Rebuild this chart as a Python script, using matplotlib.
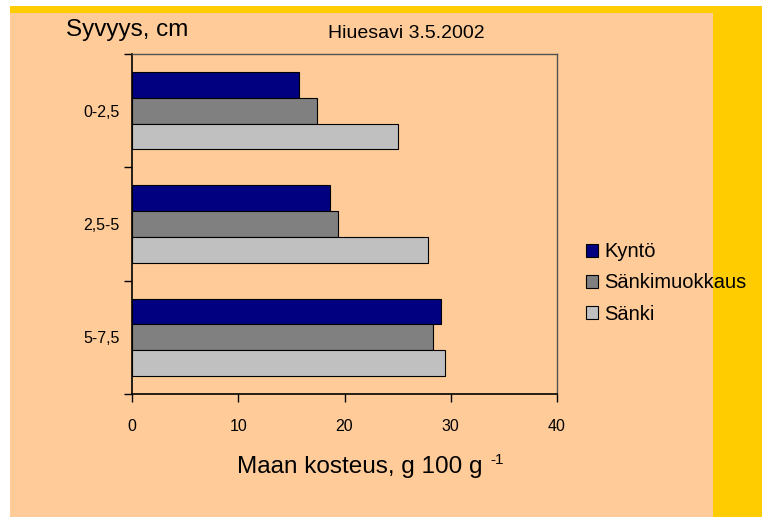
import matplotlib.pyplot as plt
from matplotlib.patches import Rectangle

# data
depths = ["0-2,5", "2,5-5", "5-7,5"]
series = ["Kyntö", "Sänkimuokkaus", "Sänki"]
kynto = [15.7, 18.6, 29.1]
sankimuokkaus = [17.4, 19.4, 28.3]
sanki = [25.0, 27.9, 29.5]
colors = ["#000080", "#808080", "#C0C0C0"]
xticks = [0, 10, 20, 30, 40]

plt.rcParams['font.family'] = ['Liberation Sans', 'DejaVu Sans']

W, H = 762, 517
fig = plt.figure(figsize=(W / 100, H / 100), dpi=100, facecolor="white")

# background panels (yellow frame, peach area)
fig.patches.append(Rectangle((10 / W, 0), 1 - 10 / W, 1 - 6 / H,
                             transform=fig.transFigure, facecolor="#FFCC00",
                             edgecolor="none", zorder=-2))
fig.patches.append(Rectangle((10 / W, 0), (713 - 10) / W, 1 - 13 / H,
                             transform=fig.transFigure, facecolor="#FFCC99",
                             edgecolor="none", zorder=-1))

ax = fig.add_axes([132 / W, 1 - 394 / H, (557 - 132) / W, (394 - 54) / H])
ax.patch.set_alpha(0)

h = 0.227
ypos = list(range(len(depths)))
for i, (name, vals) in enumerate(zip(series, [kynto, sankimuokkaus, sanki])):
    ax.barh([y + (i - 1) * h for y in ypos], vals, height=h, color=colors[i],
            edgecolor="black", linewidth=0.8, label=name)

ax.set_xlim(0, 40)
ax.set_ylim(2.5, -0.5)
ax.set_xticks(xticks)
ax.set_xticklabels([str(v) for v in xticks], fontsize=11.5)
ax.set_yticks(ypos)
ax.set_yticklabels(depths, fontsize=11.5)
ax.set_yticks([-0.5, 0.5, 1.5, 2.5], minor=True)
ax.tick_params(axis="y", which="major", length=0, pad=9)
ax.tick_params(axis="y", which="minor", length=6, width=1, direction="out")
ax.tick_params(axis="x", length=6, width=1, direction="out", pad=12)

for s in ["left", "bottom"]:
    ax.spines[s].set_color("black")
    ax.spines[s].set_linewidth(1.2)
for s in ["top", "right"]:
    ax.spines[s].set_color("#505050")
    ax.spines[s].set_linewidth(1.0)

fig.text(66 / W, 1 - 30 / H, "Syvyys, cm", fontsize=17.5, va="center", ha="left")
fig.text(406 / W, 1 - 33 / H, "Hiuesavi 3.5.2002", fontsize=14, va="center", ha="center")

lab = fig.text(237 / W, 1 - 467 / H, "Maan kosteus, g 100 g", fontsize=17.5,
               va="center", ha="left")
ax.annotate("-1", xy=(1, 1), xycoords=lab, xytext=(6, 2), textcoords="offset points",
            fontsize=11, va="top", ha="left", annotation_clip=False)

leg = fig.legend(loc="center left", bbox_to_anchor=(578 / W, 1 - 283 / H), frameon=False,
                 fontsize=14.5, handlelength=0.6, handleheight=0.6, handletextpad=0.3,
                 labelspacing=0.6, borderaxespad=0)

fig.savefig("out.png", dpi=100, facecolor="white")
